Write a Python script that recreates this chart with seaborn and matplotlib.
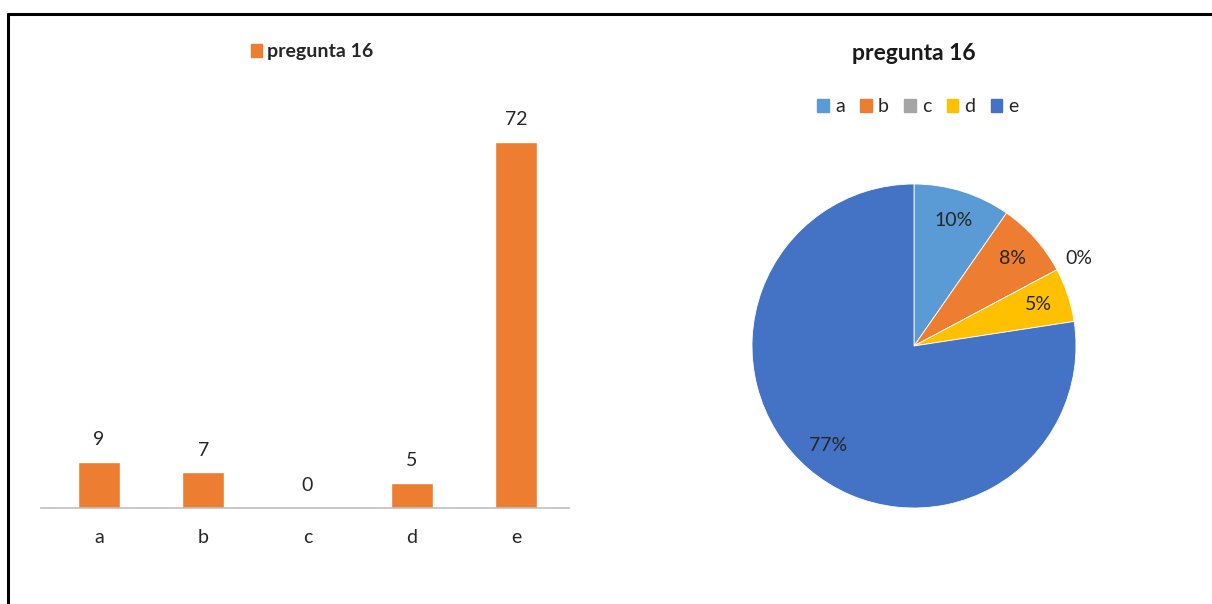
import numpy as np
import matplotlib
matplotlib.use("Agg")
import matplotlib.pyplot as plt
from matplotlib.lines import Line2D
from matplotlib.patches import Patch
import seaborn as sns
import pandas as pd

# Answers to question 16
categories = ["a", "b", "c", "d", "e"]
counts = [9, 7, 0, 5, 72]
series_name = "pregunta 16"

bar_color = "#ED7D31"
pie_colors = ["#5B9BD5", "#ED7D31", "#A5A5A5", "#FFC000", "#4472C4"]

sns.set_theme(style="white")
plt.rcParams["font.family"] = ["Lato", "DejaVu Sans"]

W, H = 1212, 604
fig = plt.figure(figsize=(W / 100, H / 100), dpi=100)


def px_rect(x0, y0, x1, y1):
    """Figure-fraction rectangle from pixel box (top-left origin)."""
    return [x0 / W, 1 - y1 / H, (x1 - x0) / W, (y1 - y0) / H]


# ---- Bar chart ----
ax = fig.add_axes(px_rect(41, 95, 569, 508))
df = pd.DataFrame({"cat": categories, "n": counts})
sns.barplot(data=df, x="cat", y="n", color=bar_color, width=0.4,
            saturation=1, ax=ax, label=series_name)
ax.set_xlim(-0.556, 4.509)
ax.set_ylim(0, 413 / 5.083)
for i, v in enumerate(counts):
    ax.annotate(str(v), (i, v), xytext=(0, 10), textcoords="offset points",
                ha="center", va="bottom", fontsize=14, color="#262626")
for s in ["top", "right", "left"]:
    ax.spines[s].set_visible(False)
ax.spines["bottom"].set_color("#BFBFBF")
ax.spines["bottom"].set_linewidth(1.2)
ax.set_yticks([])
ax.set_xlabel("")
ax.set_ylabel("")
ax.tick_params(axis="x", length=0, pad=15, labelsize=14, labelcolor="#262626")
ax.legend(handles=[Patch(color=bar_color, label=series_name)],
          loc="center", bbox_to_anchor=(312 / W, 1 - 52 / H),
          bbox_transform=fig.transFigure, frameon=False,
          handlelength=0.6, handleheight=0.6, handletextpad=0.25,
          prop={"weight": "bold", "size": 14})

# ---- Pie chart ----
pax = fig.add_axes(px_rect(752, 184, 1076, 508))
wedges, _ = pax.pie(counts, colors=pie_colors, startangle=90,
                    counterclock=False, radius=1,
                    wedgeprops={"edgecolor": "white", "linewidth": 0.6})
pax.set_xlim(-1, 1)
pax.set_ylim(-1, 1)
pax.set_aspect("equal")
total = sum(counts)
for w, v in zip(wedges, counts):
    ang = np.deg2rad((w.theta1 + w.theta2) / 2)
    r = 0.81 if v > 0 else 1.15
    pax.text(r * np.cos(ang), r * np.sin(ang), f"{round(100 * v / total)}%",
             ha="center", va="center", fontsize=14, color="#262626",
             clip_on=False)

fig.text(914 / W, 1 - 53 / H, series_name, ha="center", va="center",
         fontsize=16.5, fontweight="bold", color="#1a1a1a")
fig.legend(handles=[Patch(color=c, label=l) for c, l in zip(pie_colors, categories)],
           loc="center", bbox_to_anchor=(918 / W, 1 - 107 / H), ncol=5,
           frameon=False, handlelength=0.6, handleheight=0.6,
           handletextpad=0.3, columnspacing=0.8, prop={"size": 14})

# Frame edges
fig.add_artist(Line2D([8 / W, 1], [1 - 14 / H, 1 - 14 / H],
                      transform=fig.transFigure, color="black", lw=2.2))
fig.add_artist(Line2D([8 / W, 8 / W], [0, 1 - 14 / H],
                      transform=fig.transFigure, color="black", lw=2.2))

fig.savefig("out.png", dpi=100)
